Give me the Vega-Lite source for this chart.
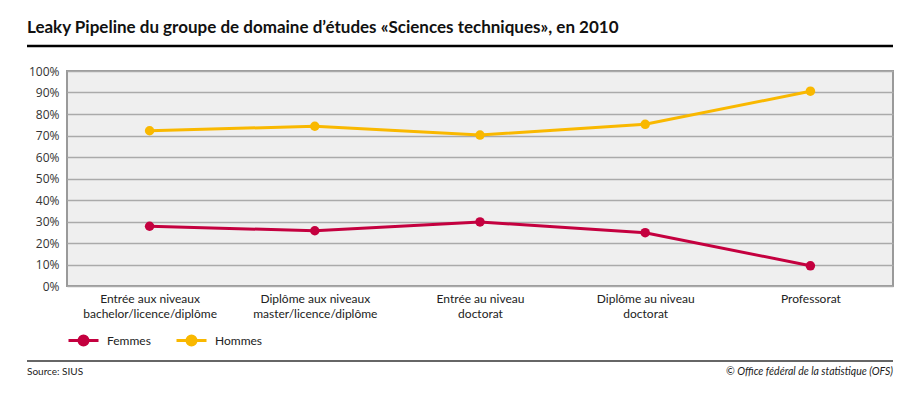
{
  "$schema": "https://vega.github.io/schema/vega-lite/v6.json",
  "autosize": "none",
  "width": 826,
  "height": 215,
  "padding": {"left": 67, "top": 71, "right": 25, "bottom": 107},
  "background": "white",
  "title": {
    "text": "Leaky Pipeline du groupe de domaine d’études «Sciences techniques», en 2010",
    "anchor": "start",
    "frame": "group",
    "dx": -40,
    "dy": 21,
    "offset": 16,
    "baseline": "alphabetic",
    "font": "Lato",
    "fontSize": 17,
    "fontWeight": "bold",
    "color": "#111"
  },
  "config": {
    "view": {"fill": "#efefef", "stroke": "#9a9a9a", "strokeWidth": 2},
    "axis": {"labelColor": "#333"}
  },
  "data": {
    "values": [
      {"niveau": "Entrée aux niveaux\nbachelor/licence/diplôme", "sexe": "Femmes", "part": 0.278},
      {"niveau": "Diplôme aux niveaux\nmaster/licence/diplôme", "sexe": "Femmes", "part": 0.257},
      {"niveau": "Entrée au niveau\ndoctorat", "sexe": "Femmes", "part": 0.298},
      {"niveau": "Diplôme au niveau\ndoctorat", "sexe": "Femmes", "part": 0.248},
      {"niveau": "Professorat", "sexe": "Femmes", "part": 0.094},
      {"niveau": "Entrée aux niveaux\nbachelor/licence/diplôme", "sexe": "Hommes", "part": 0.722},
      {"niveau": "Diplôme aux niveaux\nmaster/licence/diplôme", "sexe": "Hommes", "part": 0.743},
      {"niveau": "Entrée au niveau\ndoctorat", "sexe": "Hommes", "part": 0.702},
      {"niveau": "Diplôme au niveau\ndoctorat", "sexe": "Hommes", "part": 0.752},
      {"niveau": "Professorat", "sexe": "Hommes", "part": 0.906}
    ]
  },
  "layer": [
    {
      "encoding": {
        "x": {
          "field": "niveau",
          "type": "nominal",
          "sort": null,
          "scale": {"paddingInner": 0, "paddingOuter": 0},
          "axis": {
            "title": null,
            "labelAngle": 0,
            "labelExpr": "split(datum.label, '\\n')",
            "labelFont": "Lato",
            "labelFontSize": 12,
            "labelLineHeight": 15,
            "labelBaseline": "top",
            "labelPadding": 7,
            "labelColor": "#222",
            "ticks": false,
            "domain": false,
            "grid": false
          }
        },
        "y": {
          "field": "part",
          "type": "quantitative",
          "scale": {"domain": [0, 1], "nice": false},
          "axis": {
            "title": null,
            "format": ".0%",
            "values": [0, 0.1, 0.2, 0.3, 0.4, 0.5, 0.6, 0.7, 0.8, 0.9, 1],
            "labelFont": "Open Sans",
            "labelFontSize": 12,
            "labelPadding": 8,
            "ticks": false,
            "domain": false,
            "grid": true,
            "gridColor": "#aaaaaa",
            "gridWidth": 1.5
          }
        },
        "color": {
          "field": "sexe",
          "type": "nominal",
          "scale": {"domain": ["Femmes", "Hommes"], "range": ["#c4003f", "#f9b800"]},
          "legend": {
            "title": null,
            "orient": "none",
            "direction": "horizontal",
            "legendX": 0,
            "legendY": 253,
            "padding": 0,
            "symbolType": "M-1,0H1M0.3,0A0.3,0.3,0,1,1,-0.3,0A0.3,0.3,0,1,1,0.3,0Z",
            "symbolSize": 900,
            "symbolStrokeWidth": 3,
            "labelFont": "Lato",
            "labelFontSize": 12,
            "labelColor": "#222",
            "labelOffset": 7,
            "columnPadding": 19,
            "encode": {
              "symbols": {
                "update": {
                  "fill": {"scale": "color", "field": "value"},
                  "stroke": {"scale": "color", "field": "value"},
                  "strokeWidth": {"value": 3},
                  "opacity": {"value": 1}
                }
              }
            }
          }
        }
      },
      "layer": [
        {"mark": {"type": "line", "strokeWidth": 3}},
        {"mark": {"type": "point", "filled": true, "size": 90, "opacity": 1}}
      ]
    },
    {
      "data": {"values": [{"k": 1}]},
      "mark": {"type": "rule", "color": "#000", "strokeWidth": 2.5},
      "encoding": {"x": {"value": -40}, "x2": {"value": 826}, "y": {"value": -25}}
    },
    {
      "data": {"values": [{"k": 1}]},
      "mark": {"type": "rule", "color": "#666", "strokeWidth": 2},
      "encoding": {"x": {"value": -40}, "x2": {"value": 826}, "y": {"value": 290}}
    },
    {
      "data": {"values": [{"k": 1}]},
      "mark": {"type": "text", "align": "left", "baseline": "middle", "text": "Source: SIUS", "font": "Lato", "fontSize": 10, "color": "#222"},
      "encoding": {"x": {"value": -40}, "y": {"value": 301}}
    },
    {
      "data": {"values": [{"k": 1}]},
      "mark": {"type": "text", "align": "right", "baseline": "middle", "text": "© Office fédéral de la statistique (OFS)", "font": "Lato", "fontSize": 10.5, "fontStyle": "italic", "color": "#222"},
      "encoding": {"x": {"value": 826}, "y": {"value": 301}}
    }
  ]
}
